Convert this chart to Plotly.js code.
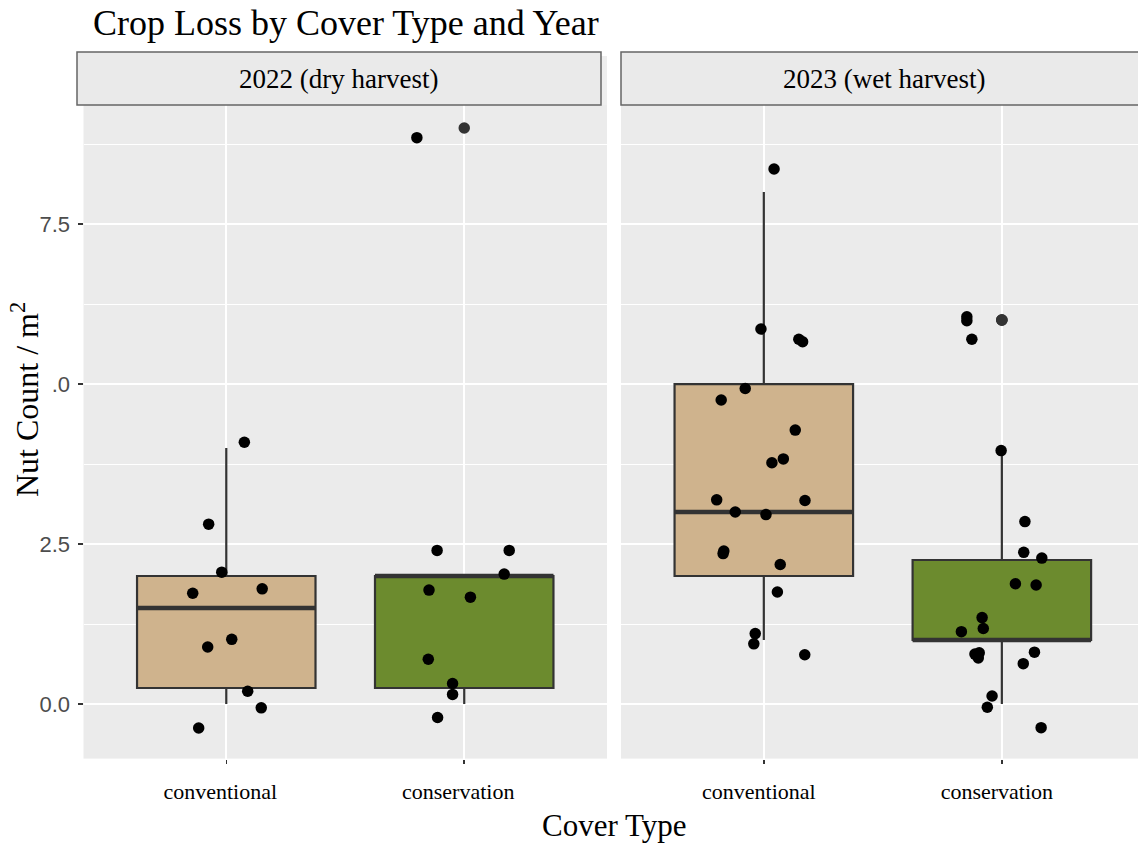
<!DOCTYPE html>
<html>
<head>
<meta charset="utf-8">
<script src="https://cdn.plot.ly/plotly-3.0.1.min.js"></script>
<style>
  html, body { margin: 0; padding: 0; background: #ffffff; }
  #chart { width: 1138px; height: 844px; }
</style>
</head>
<body>
<div id="chart"></div>
<script>
// Facets (harvest year) and cover types
const years = ['2022 (dry harvest)', '2023 (wet harvest)'];
const coverTypes = ['conventional', 'conservation'];
const coverColors = ['#CFB38D', '#6C8B2E'];

// Y axis ticks and minor grid
const yTickValues = [0, 2.5, 5, 7.5];
const yTickLabels = ['0.0', '2.5', '.0', '7.5'];
const yMinorGrid = [1.25, 3.75, 6.25, 8.75];

// Nut counts per m² for each sampled plot
const counts2022Conventional = [4, 3, 2, 2, 2, 1, 1, 0, 0, 0];
const counts2022Conservation = [9, 2, 2, 2, 2, 2, 1, 0, 0, 0];
const counts2023Conventional = [8, 6, 6, 6, 5, 5, 4, 4, 4, 3, 3, 3, 3, 2, 2, 2, 2, 1, 1, 1];
const counts2023Conservation = [6, 6, 6, 4, 3, 2, 2, 2, 2, 1, 1, 1, 1, 1, 1, 1, 1, 0, 0, 0];

// Jitter of each plotted point: horizontal (category widths) and vertical (counts)
const jitterX2022Conventional = [0.076, -0.074, -0.019, -0.141, 0.151, 0.023, -0.078, 0.090, 0.147, -0.116];
const jitterY2022Conventional = [0.09, -0.19, 0.06, -0.27, -0.20, 0.01, -0.11, 0.20, -0.06, -0.375];
const jitterX2022Conservation = [-0.199, -0.114, 0.189, 0.168, -0.148, 0.026, -0.151, -0.049, -0.049, -0.112];
const jitterY2022Conservation = [-0.15, 0.40, 0.40, 0.03, -0.22, -0.33, -0.30, 0.32, 0.15, -0.21];
const jitterX2023Conventional = [0.043, -0.012, 0.147, 0.163, -0.078, -0.179, 0.132, 0.034, 0.082, -0.198,
                                 0.173, -0.120, 0.009, -0.168, -0.171, 0.069, 0.057, -0.036, -0.042, 0.172];
const jitterY2023Conventional = [0.36, -0.14, -0.30, -0.34, -0.07, -0.25, 0.28, -0.23, -0.17, 0.19,
                                 0.18, 0.00, -0.04, 0.39, 0.35, 0.18, -0.25, 0.10, -0.06, -0.23];
const jitterX2023Conservation = [-0.147, -0.147, -0.126, -0.003, 0.097, 0.092, 0.168, 0.057, 0.144, -0.083,
                                 -0.078, -0.170, -0.113, -0.095, -0.099, 0.137, 0.090, -0.041, -0.061, 0.165];
const jitterY2023Conservation = [0.05, -0.01, -0.30, -0.04, -0.15, 0.37, 0.28, -0.12, -0.14, 0.35,
                                 0.18, 0.13, -0.22, -0.20, -0.28, -0.19, -0.37, 0.125, -0.05, -0.37];

const groups = [
  { facet: 0, cover: 0, counts: counts2022Conventional, jx: jitterX2022Conventional, jy: jitterY2022Conventional },
  { facet: 0, cover: 1, counts: counts2022Conservation, jx: jitterX2022Conservation, jy: jitterY2022Conservation },
  { facet: 1, cover: 0, counts: counts2023Conventional, jx: jitterX2023Conventional, jy: jitterY2023Conventional },
  { facet: 1, cover: 1, counts: counts2023Conservation, jx: jitterX2023Conservation, jy: jitterY2023Conservation }
];

// Quantile with linear interpolation between order statistics
function quantile(sorted, p) {
  const h = (sorted.length - 1) * p;
  const lo = Math.floor(h), hi = Math.ceil(h);
  return sorted[lo] + (h - lo) * (sorted[hi] - sorted[lo]);
}

function boxStats(values) {
  const s = values.slice().sort((a, b) => a - b);
  const q1 = quantile(s, 0.25), med = quantile(s, 0.5), q3 = quantile(s, 0.75);
  const iqr = q3 - q1;
  const loLim = q1 - 1.5 * iqr, hiLim = q3 + 1.5 * iqr;
  const inside = s.filter(v => v >= loLim && v <= hiLim);
  return {
    q1, med, q3,
    lower: Math.min(...inside),
    upper: Math.max(...inside),
    outliers: s.filter(v => v < loLim || v > hiLim)
  };
}

const BOX_W = 0.75;
const ink = '#333333';
const boxTraces = [], medianTraces = [], outlierTraces = [], pointTraces = [];

groups.forEach(g => {
  const xa = g.facet === 0 ? 'x' : 'x2';
  const ya = g.facet === 0 ? 'y' : 'y2';
  const c = g.cover;
  const st = boxStats(g.counts);

  boxTraces.push({
    type: 'box', xaxis: xa, yaxis: ya,
    x: [c], q1: [st.q1], median: [st.med], q3: [st.q3],
    lowerfence: [st.lower], upperfence: [st.upper],
    width: BOX_W, whiskerwidth: 0, boxpoints: false,
    fillcolor: coverColors[c], line: { color: ink, width: 2.2 },
    hoverinfo: 'skip', showlegend: false
  });

  medianTraces.push({
    type: 'scatter', mode: 'lines', xaxis: xa, yaxis: ya,
    x: [c - BOX_W / 2, c + BOX_W / 2], y: [st.med, st.med],
    line: { color: ink, width: 4.5 }, hoverinfo: 'skip', showlegend: false
  });

  outlierTraces.push({
    type: 'scatter', mode: 'markers', xaxis: xa, yaxis: ya,
    x: st.outliers.map(() => c), y: st.outliers,
    marker: { color: ink, size: 11.5 }, hoverinfo: 'skip', showlegend: false
  });

  pointTraces.push({
    type: 'scatter', mode: 'markers', xaxis: xa, yaxis: ya,
    x: g.counts.map((v, i) => c + g.jx[i]),
    y: g.counts.map((v, i) => v + g.jy[i]),
    marker: { color: '#000000', size: 11.5 },
    name: years[g.facet] + ' ' + coverTypes[c], showlegend: false
  });
});

const W = 1138, H = 844;
const px = v => v / W;
const py = v => 1 - v / H;

const serif = 'Liberation Serif, Times New Roman, serif';
const sans = 'Liberation Sans, Arial, sans-serif';

const xCommon = {
  range: [-0.6, 1.6],
  tickmode: 'array', tickvals: [0, 1], ticktext: coverTypes,
  tickfont: { family: serif, size: 22, color: '#000000' },
  ticks: 'outside', ticklen: 4, tickwidth: 1.5, tickcolor: ink,
  ticklabelstandoff: 9,
  showgrid: true, gridcolor: '#ffffff', gridwidth: 2,
  zeroline: false, showline: false, fixedrange: true
};

const yCommon = {
  range: [-0.853, 9.36],
  tickmode: 'array', tickvals: yTickValues, ticktext: yTickLabels,
  showgrid: true, gridcolor: '#ffffff', gridwidth: 2,
  minor: { tickmode: 'array', tickvals: yMinorGrid, showgrid: true, gridcolor: '#ffffff', gridwidth: 1, ticks: '' },
  zeroline: false, showline: false, fixedrange: true,
  domain: [py(758.6), py(105)]
};

const layout = {
  width: W, height: H,
  margin: { l: 0, r: 0, t: 0, b: 0, pad: 0 },
  paper_bgcolor: '#ffffff',
  plot_bgcolor: '#EBEBEB',
  boxmode: 'overlay',
  showlegend: false,
  title: {
    text: 'Crop Loss by Cover Type and Year',
    font: { family: serif, size: 36, color: '#000000' },
    xref: 'container', x: px(93), xanchor: 'left',
    yref: 'container', y: py(22), yanchor: 'middle'
  },
  xaxis: Object.assign({}, xCommon, { domain: [px(83.5), px(607)], anchor: 'y', ticklabelshift: -6 }),
  xaxis2: Object.assign({}, xCommon, { domain: [px(621), 1], anchor: 'y2', range: [-0.6, 1.572], ticklabelshift: -5 }),
  yaxis: Object.assign({}, yCommon, {
    anchor: 'x',
    ticks: 'outside', ticklen: 5, tickwidth: 1.5, tickcolor: ink,
    tickfont: { family: sans, size: 22, color: '#4D4D4D' },
    ticklabelstandoff: 3
  }),
  yaxis2: Object.assign({}, yCommon, { anchor: 'x2', matches: 'y', showticklabels: false, ticks: '' }),
  shapes: [
    { type: 'rect', xref: 'paper', yref: 'paper', layer: 'below',
      x0: px(601), x1: px(607), y0: py(105), y1: py(56),
      fillcolor: '#EEEEEE', line: { width: 0 } },
    { type: 'rect', xref: 'paper', yref: 'paper',
      x0: px(77), x1: px(601), y0: py(105), y1: py(52),
      fillcolor: '#EAEAEA', line: { color: '#666666', width: 1.5 } },
    { type: 'rect', xref: 'paper', yref: 'paper',
      x0: px(621), x1: px(1150), y0: py(105), y1: py(52),
      fillcolor: '#EAEAEA', line: { color: '#666666', width: 1.5 } }
  ],
  annotations: [
    { text: years[0], xref: 'paper', yref: 'paper', x: px(338.5), y: py(79),
      xanchor: 'center', yanchor: 'middle', showarrow: false,
      font: { family: serif, size: 27, color: '#000000' } },
    { text: years[1], xref: 'paper', yref: 'paper', x: px(883.5), y: py(79),
      xanchor: 'center', yanchor: 'middle', showarrow: false,
      font: { family: serif, size: 27, color: '#000000' } },
    { text: 'Cover Type', xref: 'paper', yref: 'paper', x: px(613.5), y: py(825),
      xanchor: 'center', yanchor: 'middle', showarrow: false,
      font: { family: serif, size: 31, color: '#000000' } },
    { text: 'Nut Count / m<sup>2</sup>', xref: 'paper', yref: 'paper', x: px(25), y: py(400),
      xanchor: 'center', yanchor: 'middle', showarrow: false, textangle: -90,
      font: { family: serif, size: 32, color: '#000000' } }
  ]
};

Plotly.newPlot('chart',
  boxTraces.concat(medianTraces, outlierTraces, pointTraces),
  layout,
  { staticPlot: true, displayModeBar: false });
</script>
</body>
</html>
